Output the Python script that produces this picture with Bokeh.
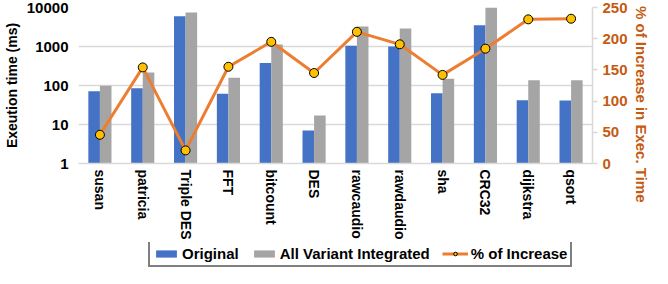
from bokeh.plotting import figure
from bokeh.layouts import column
from bokeh.models import (FactorRange, Range1d, LinearAxis, LinearScale, FixedTicker,
                          NumeralTickFormatter, Legend, LegendItem, ColumnDataSource)
from bokeh.transform import dodge
from bokeh.embed import file_html
from bokeh.resources import INLINE

benchmarks = ["susan", "patricia", "Triple DES", "FFT", "bitcount", "DES", "rawcaudio",
              "rawdaudio", "sha", "CRC32", "dijkstra", "qsort"]
original = [71, 85, 6000, 61, 380, 7, 1050, 1000, 63, 3500, 42, 41]
all_variant = [98, 215, 7400, 158, 1120, 17, 3250, 2900, 148, 10000, 137, 137]
pct_increase = [46, 154, 21, 155, 195, 145, 211, 191, 142, 184, 231, 232]
left_ticks = [1, 10, 100, 1000, 10000]
right_ticks = [0, 50, 100, 150, 200, 250]

FONT = "Liberation Sans"
BLUE = "#4472C4"
GRAY = "#A5A5A5"
ORANGE = "#ED7D31"
DARK_ORANGE = "#C55A11"
GRID = "#D9D9D9"

src = ColumnDataSource(dict(x=benchmarks, orig=original, allv=all_variant, pct=pct_increase))

p = figure(width=652, height=242, x_range=FactorRange(*benchmarks, range_padding=0),
           y_axis_type="log", y_range=Range1d(1, 10000),
           output_backend="svg", toolbar_location=None,
           min_border_left=0, min_border_right=0, min_border_top=7, min_border_bottom=0)
p.outline_line_color = None
p.extra_y_ranges = {"pct": Range1d(0, 250)}
p.extra_y_scales = {"pct": LinearScale()}

p.vbar(x=dodge("x", -0.135, range=p.x_range), top="orig", bottom=1, width=0.27,
       source=src, fill_color=BLUE, line_color=None)
p.vbar(x=dodge("x", 0.135, range=p.x_range), top="allv", bottom=1, width=0.27,
       source=src, fill_color=GRAY, line_color=None)
p.line(x="x", y="pct", source=src, y_range_name="pct", line_color=ORANGE, line_width=3)
p.scatter(x="x", y="pct", source=src, y_range_name="pct", size=9,
          fill_color="#FFC000", line_color="black", line_width=1)

# grid
p.xgrid.grid_line_color = None
p.ygrid.grid_line_color = GRID
p.ygrid.grid_line_width = 1.5
p.ygrid.minor_grid_line_color = None

# left axis
ya = p.yaxis[0]
ya.ticker = FixedTicker(ticks=left_ticks)
ya.formatter = NumeralTickFormatter(format="0")
ya.axis_line_color = None
ya.major_tick_line_color = None
ya.major_tick_out = 0
ya.major_tick_in = 0
ya.minor_tick_line_color = None
ya.minor_tick_out = 0
ya.major_label_standoff = 10
ya.major_label_text_font = FONT
ya.major_label_text_font_style = "bold"
ya.major_label_text_font_size = "15px"
ya.major_label_text_color = "black"
ya.axis_label = "Exeution time (ms)"
ya.axis_label_text_font = FONT
ya.axis_label_text_font_style = "bold"
ya.axis_label_text_font_size = "14px"
ya.axis_label_text_color = "black"
ya.axis_label_standoff = 4

# x axis
xa = p.xaxis[0]
xa.axis_label = None
xa.axis_line_color = GRID
xa.axis_line_width = 1.5
xa.major_tick_line_color = None
xa.major_tick_out = 0
xa.major_tick_in = 0
xa.major_label_orientation = "vertical"
xa.major_label_standoff = 6
xa.major_label_text_font = FONT
xa.major_label_text_font_style = "bold"
xa.major_label_text_font_size = "14px"
xa.major_label_text_color = "black"

# right axis
ra = LinearAxis(y_range_name="pct", ticker=FixedTicker(ticks=right_ticks))
ra.axis_line_color = GRID
ra.axis_line_width = 1.5
ra.major_tick_line_color = GRID
ra.major_tick_line_width = 1.5
ra.major_tick_in = 0
ra.major_tick_out = 5
ra.minor_tick_line_color = None
ra.minor_tick_out = 0
ra.major_label_standoff = 5
ra.major_label_text_font = FONT
ra.major_label_text_font_style = "bold"
ra.major_label_text_font_size = "15px"
ra.major_label_text_color = DARK_ORANGE
ra.axis_label = "\u00a0" * 9 + "% of Increase in Exec. Time"
ra.axis_label_text_font = FONT
ra.axis_label_text_font_style = "bold"
ra.axis_label_text_font_size = "15px"
ra.axis_label_text_color = DARK_ORANGE
ra.axis_label_standoff = 2
p.add_layout(ra, "right")

# legend strip below the chart (same series; its range keeps the marks far off-page)
lg = figure(width=652, height=26, x_range=FactorRange(*benchmarks, range_padding=0),
            y_range=Range1d(20000, 20001), x_axis_location=None, y_axis_location=None,
            output_backend="svg", toolbar_location=None, min_border=0)
lg.outline_line_color = None
lg.grid.visible = False
l_orig = lg.vbar(x=dodge("x", -0.135, range=lg.x_range), top="orig", bottom=1, width=0.27,
                 source=src, fill_color=BLUE, line_color=None)
l_all = lg.vbar(x=dodge("x", 0.135, range=lg.x_range), top="allv", bottom=1, width=0.27,
                source=src, fill_color=GRAY, line_color=None)
l_line = lg.line(x="x", y="pct", source=src, line_color=ORANGE, line_width=3)
l_pts = lg.scatter(x="x", y="pct", source=src, size=9,
                   fill_color="#FFC000", line_color="black", line_width=1)

legend = Legend(items=[LegendItem(label="Original", renderers=[l_orig]),
                       LegendItem(label="All Variant Integrated", renderers=[l_all]),
                       LegendItem(label="% of Increase", renderers=[l_line, l_pts])],
                orientation="horizontal", location=(70, 1),
                border_line_color="black", border_line_width=2, border_line_dash="dashed",
                background_fill_alpha=0, padding=3, spacing=12, margin=0,
                glyph_width=26, glyph_height=9, label_standoff=3,
                label_text_font=FONT, label_text_font_style="bold",
                label_text_font_size="15px", label_text_color="black",
                label_height=15)
lg.add_layout(legend, "center")

layout = column(p, lg, spacing=0)
open("out.html", "w").write(file_html(layout, INLINE))
